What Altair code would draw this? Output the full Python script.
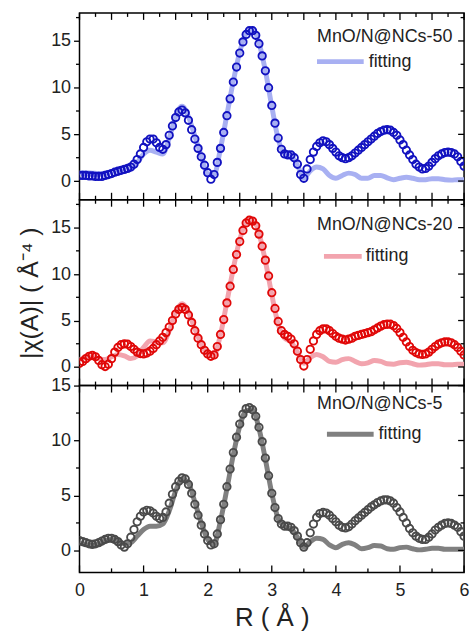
import altair as alt
import pandas as pd

# Radial grid of the Fourier-transformed data (step 0.05 Å) and of the fits (step 0.1 Å)
R_DATA = [round(i * 0.05, 2) for i in range(121)]
R_FIT = [round(i * 0.1, 1) for i in range(61)]

# MnO/N@NCs-50
data50 = [0.6, 0.6, 0.6, 0.55, 0.55, 0.5, 0.5, 0.5, 0.6, 0.7,
          0.8, 0.95, 1.05, 1.15, 1.25, 1.35, 1.5, 1.8, 2.3, 2.9,
          3.6, 4.2, 4.5, 4.5, 4.1, 3.6, 3.4, 3.9, 4.9, 5.9,
          6.8, 7.4, 7.6, 7.3, 6.5, 5.5, 4.5, 3.5, 2.6, 1.7,
          0.9, 0.2, 0.7, 2.0, 3.5, 5.2, 7.0, 8.8, 10.6, 12.2,
          13.7, 14.9, 15.7, 16.1, 16.1, 15.6, 14.7, 13.4, 11.8, 10.0,
          8.1, 6.2, 4.6, 3.4, 2.9, 2.8, 2.8, 2.5, 1.8, 0.7,
          0.3, 1.3, 2.3, 3.1, 3.7, 4.1, 4.3, 4.2, 3.9, 3.5,
          3.1, 2.7, 2.5, 2.4, 2.5, 2.7, 3.0, 3.3, 3.6, 3.9,
          4.2, 4.5, 4.8, 5.1, 5.3, 5.45, 5.5, 5.45, 5.2, 4.9,
          4.4, 3.9, 3.3, 2.8, 2.3, 1.8, 1.5, 1.3, 1.35, 1.6,
          2.0, 2.4, 2.7, 2.9, 3.05, 3.1, 3.05, 2.9, 2.6, 2.1,
          1.6]
fit50 = [0.9, 0.9, 0.85, 0.8, 0.85, 1.0, 1.2, 1.35, 1.5, 2.0,
         2.9, 3.3, 3.1, 2.9, 4.6, 6.9, 8.0, 6.9, 4.8, 2.7,
         0.8, 0.7, 3.5, 7.1, 10.7, 13.8, 15.8, 16.2, 14.8, 11.8,
         8.0, 4.5, 2.9, 2.7, 1.7, 0.3, 1.1, 1.5, 1.3, 0.6,
         0.3, 0.6, 0.85, 0.7, 0.3, 0.3, 0.6, 0.6, 0.35, 0.15,
         0.3, 0.4, 0.3, 0.15, 0.15, 0.25, 0.25, 0.15, 0.1, 0.15,
         0.15]

# MnO/N@NCs-20
data20 = [0.4, 0.6, 0.9, 1.15, 1.25, 1.1, 0.7, 0.25, 0.05, 0.3,
          0.9, 1.6, 2.1, 2.4, 2.5, 2.45, 2.2, 1.9, 1.6, 1.45,
          1.4, 1.5, 1.7, 2.0, 2.4, 2.8, 3.2, 3.7, 4.3, 5.0,
          5.7, 6.2, 6.4, 6.2, 5.6, 4.8, 3.9, 3.1, 2.4, 1.8,
          1.4, 1.15, 1.3, 2.2, 3.5, 5.1, 6.9, 8.7, 10.5, 12.1,
          13.5, 14.7, 15.5, 15.8, 15.7, 15.2, 14.3, 13.0, 11.5, 9.8,
          8.0, 6.3, 4.9, 3.9, 3.5, 3.3, 3.0, 2.5, 1.7, 0.8,
          0.1, 0.8, 1.9, 2.8, 3.5, 3.9, 4.1, 4.1, 3.9, 3.6,
          3.3, 3.1, 3.0, 2.9, 3.0, 3.1, 3.3, 3.4, 3.5, 3.6,
          3.7, 3.8, 4.0, 4.2, 4.4, 4.55, 4.6, 4.6, 4.45, 4.15,
          3.7, 3.2, 2.7, 2.2, 1.8, 1.55, 1.4, 1.35, 1.4, 1.6,
          1.9, 2.2, 2.45, 2.6, 2.7, 2.7, 2.6, 2.4, 2.1, 1.7,
          1.3]
fit20 = [0.8, 1.0, 1.1, 0.9, 0.8, 1.1, 1.35, 1.2, 0.9, 1.2,
         2.1, 2.8, 2.7, 2.6, 3.9, 5.9, 6.8, 5.9, 4.1, 2.5,
         1.4, 1.3, 3.5, 7.0, 10.6, 13.7, 15.6, 15.9, 14.4, 11.4,
         7.8, 4.6, 3.1, 2.7, 1.6, 0.4, 1.0, 1.35, 1.1, 0.6,
         0.5, 0.8, 0.9, 0.6, 0.35, 0.45, 0.7, 0.6, 0.35, 0.3,
         0.45, 0.5, 0.35, 0.2, 0.25, 0.35, 0.35, 0.25, 0.25, 0.3,
         0.3]

# MnO/N@NCs-5
data5 = [0.9, 0.8, 0.7, 0.6, 0.55, 0.6, 0.7, 0.85, 1.0, 1.1,
         1.1, 1.0, 0.8, 0.5, 0.3, 0.6, 1.2, 1.9, 2.6, 3.1,
         3.5, 3.65, 3.6, 3.4, 3.1, 2.9, 3.0, 3.5, 4.3, 5.1,
         5.8, 6.3, 6.6, 6.5, 6.0, 5.2, 4.2, 3.2, 2.3, 1.5,
         0.9, 0.5, 0.6, 1.5, 2.8, 4.2, 5.8, 7.4, 8.9, 10.3,
         11.5, 12.4, 12.9, 13.0, 12.8, 12.2, 11.2, 9.9, 8.4, 6.8,
         5.2, 3.9, 2.9, 2.4, 2.2, 2.2, 2.1, 1.8, 1.3, 0.7,
         0.3, 0.7, 1.6, 2.4, 3.0, 3.35, 3.45, 3.4, 3.2, 2.9,
         2.6, 2.3, 2.1, 2.05, 2.15, 2.4, 2.7, 2.95, 3.2, 3.45,
         3.7, 3.95, 4.15, 4.35, 4.5, 4.6, 4.6, 4.5, 4.3, 3.9,
         3.5, 3.0, 2.5, 2.0, 1.6, 1.3, 1.1, 1.0, 1.0, 1.2,
         1.5, 1.85, 2.1, 2.3, 2.45, 2.5, 2.45, 2.3, 2.1, 1.7,
         1.3]
fit5 = [0.7, 0.55, 0.45, 0.6, 0.9, 1.0, 0.9, 0.6, 0.7, 1.3,
        1.9, 2.2, 2.2, 2.4, 3.6, 5.4, 6.5, 6.1, 4.4, 2.5,
        1.0, 0.6, 2.7, 5.6, 8.7, 11.3, 12.7, 12.8, 11.1, 8.3,
        5.2, 2.9, 2.2, 2.0, 1.2, 0.3, 0.8, 1.1, 1.0, 0.5,
        0.25, 0.55, 0.7, 0.5, 0.15, 0.25, 0.45, 0.4, 0.15, 0.1,
        0.25, 0.3, 0.15, 0.05, 0.1, 0.2, 0.2, 0.1, 0.1, 0.1,
        0.1]

FONT = "Liberation Sans"
W = 387
X_SCALE = alt.Scale(domain=[0, 6], nice=False, zero=False)


def x_edge_ticks(values, y_from, y_to):
    """Inward x ticks along a horizontal frame edge."""
    return alt.Chart(pd.DataFrame({"v": values})).mark_rule(
        color="black", strokeWidth=1.3
    ).encode(
        x=alt.X("v:Q", scale=X_SCALE),
        y=alt.value(y_from),
        y2=alt.value(y_to),
    )


def y_edge_ticks(values, y_scale, x_from, x_to):
    """Ticks along a vertical frame edge."""
    return alt.Chart(pd.DataFrame({"v": values})).mark_rule(
        color="black", strokeWidth=1.3
    ).encode(
        y=alt.Y("v:Q", scale=y_scale),
        x=alt.value(x_from),
        x2=alt.value(x_to),
    )


def panel(data, fit, c_fit, c_stroke, ydom, h, label, lab_y,
          fit_y, line_x, fit_text_x, ytitle=None, bottom=False):
    y_scale = alt.Scale(domain=ydom, nice=False, zero=False)
    majors = [0, 5, 10, 15]
    minors = [v + 2.5 for v in majors if v + 2.5 < ydom[1]]
    y_axis = alt.Axis(
        tickCount=5, tickSize=6, tickColor="black", tickWidth=1.3,
        domain=False, grid=False,
        labelFont=FONT, labelFontSize=18, labelColor="#222", labelPadding=3,
        title=ytitle,
        titleFont=FONT, titleFontSize=25, titleFontWeight="normal",
        titleColor="#222", titlePadding=8,
    )
    if bottom:
        x_axis = alt.Axis(
            tickCount=6, format="d", ticks=False, domain=False, labelFlush=False,
            grid=False, labelFont=FONT, labelFontSize=18, labelColor="#222",
            labelPadding=9, title="R ( Å )", titleFont=FONT, titleFontSize=26,
            titleFontWeight="normal", titleColor="#222", titlePadding=5,
        )
    else:
        x_axis = alt.Axis(labels=False, ticks=False, domain=False, grid=False,
                          title=None)

    df_d = pd.DataFrame({"R": R_DATA, "chi": data})
    df_f = pd.DataFrame({"R": R_FIT, "chi": fit})

    fit_line = alt.Chart(df_f).mark_line(
        color=c_fit, strokeWidth=5, interpolate="monotone", clip=True
    ).encode(
        x=alt.X("R:Q", scale=X_SCALE, axis=x_axis),
        y=alt.Y("chi:Q", scale=y_scale, axis=y_axis),
    )
    points = alt.Chart(df_d).mark_point(
        shape="circle", filled=False, size=55, strokeWidth=1.9,
        color=c_stroke, opacity=1, clip=True
    ).encode(
        x=alt.X("R:Q", scale=X_SCALE),
        y=alt.Y("chi:Q", scale=y_scale),
    )

    layers = [fit_line, points,
              y_edge_ticks(majors, y_scale, W, W - 6),
              y_edge_ticks(minors, y_scale, W, W - 3.5),
              y_edge_ticks(minors, y_scale, 0, -3.5)]

    quarter = [i * 0.25 for i in range(25)]
    q_major = [v for v in quarter if (v * 2) % 1 == 0]
    q_minor = [v for v in quarter if (v * 2) % 1 != 0]
    layers += [x_edge_ticks(q_major, 0, 7), x_edge_ticks(q_minor, 0, 4)]
    if bottom:
        half = [i * 0.5 for i in range(13)]
        layers += [x_edge_ticks([v for v in half if v % 1 == 0], h, h - 7),
                   x_edge_ticks([v for v in half if v % 1 != 0], h, h - 4)]
    else:
        layers += [x_edge_ticks(q_major, h, h - 7), x_edge_ticks(q_minor, h, h - 4)]

    legend_df = pd.DataFrame({"t": [label]})
    name = alt.Chart(legend_df).mark_text(
        align="left", baseline="middle", font=FONT, fontSize=18, color="#222"
    ).encode(x=alt.value(239), y=alt.value(lab_y), text="t:N")
    fit_df = pd.DataFrame({"t": ["fitting"]})
    fit_txt = alt.Chart(fit_df).mark_text(
        align="left", baseline="middle", font=FONT, fontSize=18, color="#222"
    ).encode(x=alt.value(fit_text_x), y=alt.value(fit_y), text="t:N")
    fit_key = alt.Chart(fit_df).mark_rule(color=c_fit, strokeWidth=5).encode(
        x=alt.value(line_x[0]), x2=alt.value(line_x[1]), y=alt.value(fit_y))
    layers += [fit_key, fit_txt, name]

    return alt.layer(*layers).properties(width=W, height=h)


p50 = panel(data50, fit50, "#a8b0f2", "#1212c0", [-2, 18], 188,
            "MnO/N@NCs-50", 24, 49, (239, 286), 291)
p20 = panel(data20, fit20, "#f2a4ae", "#e00808", [-2, 18], 187,
            "MnO/N@NCs-20", 25, 57, (246, 284), 288, ytitle="|χ(A)| ( Å⁻⁴ )")
p5 = panel(data5, fit5, "#808080", "#4a4a4a", [-2, 15], 188,
           "MnO/N@NCs-5", 19, 49, (249, 296), 301, bottom=True)

chart = alt.vconcat(p50, p20, p5, spacing=0, bounds="flush").properties(
    padding={"left": 17, "top": 9, "right": 5, "bottom": 2},
    background="white",
).configure_view(
    stroke="black", strokeWidth=1.5
)

chart.save("out.html", embed_options={"renderer": "svg", "actions": False})
